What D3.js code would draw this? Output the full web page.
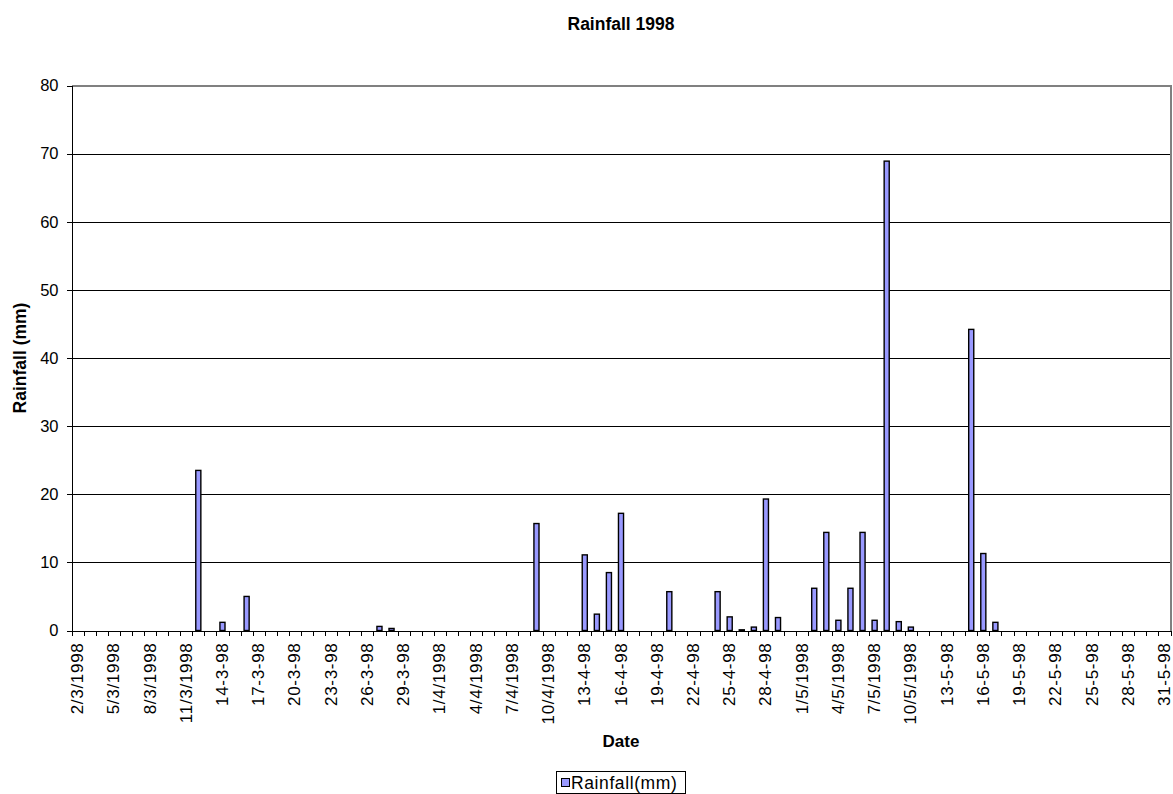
<!DOCTYPE html>
<html>
<head>
<meta charset="utf-8">
<script src="https://cdn.jsdelivr.net/npm/d3@7"></script>
<style>
  html, body { margin: 0; padding: 0; background: #fff; }
  svg { display: block; font-family: "Liberation Sans", Arial, sans-serif; }
</style>
</head>
<body>
<svg id="chart" width="1173" height="794"></svg>
<script>
// ---- data ----
const categories = [
  "2/3/1998","3/3/1998","4/3/1998","5/3/1998","6/3/1998","7/3/1998","8/3/1998","9/3/1998","10/3/1998","11/3/1998",
  "12/3/1998","13/3/1998","14/3/1998","15/3/1998","16/3/1998","17/3/1998","18/3/1998","19/3/1998","20/3/1998","21/3/1998",
  "22/3/1998","23/3/1998","24/3/1998","25/3/1998","26/3/1998","27/3/1998","28/3/1998","29/3/1998","30/3/1998","31/3/1998",
  "1/4/1998","2/4/1998","3/4/1998","4/4/1998","5/4/1998","6/4/1998","7/4/1998","8/4/1998","9/4/1998","10/4/1998",
  "11/4/1998","12/4/1998","13/4/1998","14/4/1998","15/4/1998","16/4/1998","17/4/1998","18/4/1998","19/4/1998","20/4/1998",
  "21/4/1998","22/4/1998","23/4/1998","24/4/1998","25/4/1998","26/4/1998","27/4/1998","28/4/1998","29/4/1998","30/4/1998",
  "1/5/1998","2/5/1998","3/5/1998","4/5/1998","5/5/1998","6/5/1998","7/5/1998","8/5/1998","9/5/1998","10/5/1998",
  "11/5/1998","12/5/1998","13/5/1998","14/5/1998","15/5/1998","16/5/1998","17/5/1998","18/5/1998","19/5/1998","20/5/1998",
  "21/5/1998","22/5/1998","23/5/1998","24/5/1998","25/5/1998","26/5/1998","27/5/1998","28/5/1998","29/5/1998","30/5/1998",
  "31/5/1998"
];

const rainfall = [
  0, 0, 0, 0, 0, 0, 0, 0, 0, 0,
  23.5, 0, 1.2, 0, 5.0, 0, 0, 0, 0, 0,
  0, 0, 0, 0, 0, 0.6, 0.3, 0, 0, 0,
  0, 0, 0, 0, 0, 0, 0, 0, 15.7, 0,
  0, 0, 11.1, 2.4, 8.5, 17.2, 0, 0, 0, 5.7,
  0, 0, 0, 5.7, 2.0, 0.1, 0.5, 19.3, 1.9, 0,
  0, 6.2, 14.4, 1.5, 6.2, 14.4, 1.5, 68.9, 1.3, 0.5,
  0, 0, 0, 0, 44.2, 11.3, 1.2, 0, 0, 0,
  0, 0, 0, 0, 0, 0, 0, 0, 0, 0,
  0
];

const tickLabels = [
  "2/3/1998","5/3/1998","8/3/1998","11/3/1998","14-3-98","17-3-98","20-3-98","23-3-98","26-3-98","29-3-98",
  "1/4/1998","4/4/1998","7/4/1998","10/4/1998","13-4-98","16-4-98","19-4-98","22-4-98","25-4-98","28-4-98",
  "1/5/1998","4/5/1998","7/5/1998","10/5/1998","13-5-98","16-5-98","19-5-98","22-5-98","25-5-98","28-5-98",
  "31-5-98"
];
const yTicks = [0, 10, 20, 30, 40, 50, 60, 70, 80];

const seriesName = "Rainfall(mm)";
const chartTitle = "Rainfall 1998";
const xTitle = "Date";
const yTitle = "Rainfall (mm)";

// ---- layout ----
const pL = 71.5, pR = 1170.5, pT = 85.5, pB = 630.5;
const pW = pR - pL;

const svg = d3.select("#chart");

const xBand = d3.scaleBand().domain(categories).range([pL, pR]).paddingInner(0.58).paddingOuter(0.29);
const xStep = d3.scaleBand().domain(categories).range([pL, pR]).padding(0);
const xIdx = d3.scaleLinear().domain([0, categories.length]).range([pL, pR]);
const y = d3.scaleLinear().domain([0, 80]).range([pB, pT]);

// gridlines
const grid = svg.append("g")
  .attr("transform", `translate(${pL},0)`)
  .call(d3.axisLeft(y).tickValues(yTicks.filter(v => v > 0 && v < 80)).tickSize(-pW).tickFormat(""));
grid.select(".domain").remove();
grid.selectAll("line").attr("stroke", "#000").attr("stroke-width", 1).attr("shape-rendering", "crispEdges");

// plot border (top, right grey)
svg.append("path")
  .attr("d", `M${pL},${pT}H${pR}V${pB}`)
  .attr("fill", "none").attr("stroke", "#808080").attr("stroke-width", 2)
  .attr("shape-rendering", "crispEdges");

// bars
svg.append("g").selectAll("rect")
  .data(categories.map((c, i) => ({ c, v: rainfall[i] })).filter(d => d.v > 0))
  .join("rect")
  .attr("x", d => xBand(d.c))
  .attr("width", xBand.bandwidth())
  .attr("y", d => y(d.v))
  .attr("height", d => y(0) - y(d.v))
  .attr("fill", "#9999FF")
  .attr("stroke", "#000")
  .attr("stroke-width", 1.4);

// y axis
const yAxis = svg.append("g")
  .attr("transform", `translate(${pL},0)`)
  .call(d3.axisLeft(y).tickValues(yTicks).tickSize(5).tickPadding(8).tickFormat(d3.format("d")));
yAxis.select(".domain").attr("stroke", "#000").attr("shape-rendering", "crispEdges");
yAxis.selectAll("line").attr("stroke", "#000").attr("shape-rendering", "crispEdges");
yAxis.selectAll("text")
  .attr("font-family", "'Liberation Sans', Arial, sans-serif")
  .attr("font-size", 16.5).attr("fill", "#000");

// x axis ticks at category boundaries
const xTickAxis = svg.append("g")
  .attr("transform", `translate(0,${pB})`)
  .call(d3.axisBottom(xIdx).tickValues(d3.range(categories.length + 1)).tickSize(5).tickFormat(""));
xTickAxis.select(".domain").attr("stroke", "#000").attr("shape-rendering", "crispEdges");
xTickAxis.selectAll("line").attr("stroke", "#000").attr("shape-rendering", "crispEdges");

// x labels
const labelCats = categories.filter((c, i) => i % 3 === 0);
const xLabelAxis = svg.append("g")
  .attr("transform", `translate(0,${pB})`)
  .call(d3.axisBottom(xStep).tickValues(labelCats).tickSize(0).tickFormat((d, i) => tickLabels[i]));
xLabelAxis.select(".domain").remove();
xLabelAxis.selectAll("text")
  .attr("font-family", "'Liberation Sans', Arial, sans-serif")
  .attr("font-size", 17).attr("fill", "#000")
  .attr("letter-spacing", "0.7px")
  .attr("text-anchor", "end")
  .attr("dy", null)
  .attr("y", 0)
  .attr("dominant-baseline", "central")
  .attr("transform", "translate(0,12) rotate(-90)")
  .attr("x", 0);

// titles
svg.append("text")
  .attr("x", (pL + pR) / 2).attr("y", 30)
  .attr("text-anchor", "middle")
  .attr("font-weight", "bold").attr("font-size", 17.5)
  .text(chartTitle);

svg.append("text")
  .attr("x", (pL + pR) / 2).attr("y", 747)
  .attr("text-anchor", "middle")
  .attr("font-weight", "bold").attr("font-size", 17)
  .text(xTitle);

svg.append("text")
  .attr("transform", `translate(26,${(pT + pB) / 2}) rotate(-90)`)
  .attr("text-anchor", "middle")
  .attr("font-weight", "bold").attr("font-size", 17.5)
  .text(yTitle);

// legend
const lg = svg.append("g");
lg.append("rect")
  .attr("x", 556.5).attr("y", 771.5).attr("width", 129).attr("height", 22)
  .attr("fill", "#fff").attr("stroke", "#000").attr("stroke-width", 1);
lg.append("rect")
  .attr("x", 561.5).attr("y", 778.5).attr("width", 8).attr("height", 8)
  .attr("fill", "#9999FF").attr("stroke", "#000").attr("stroke-width", 1);
lg.append("text")
  .attr("x", 571).attr("y", 789)
  .attr("font-size", 17.5)
  .attr("letter-spacing", "0.6px")
  .text(seriesName);
</script>
</body>
</html>
